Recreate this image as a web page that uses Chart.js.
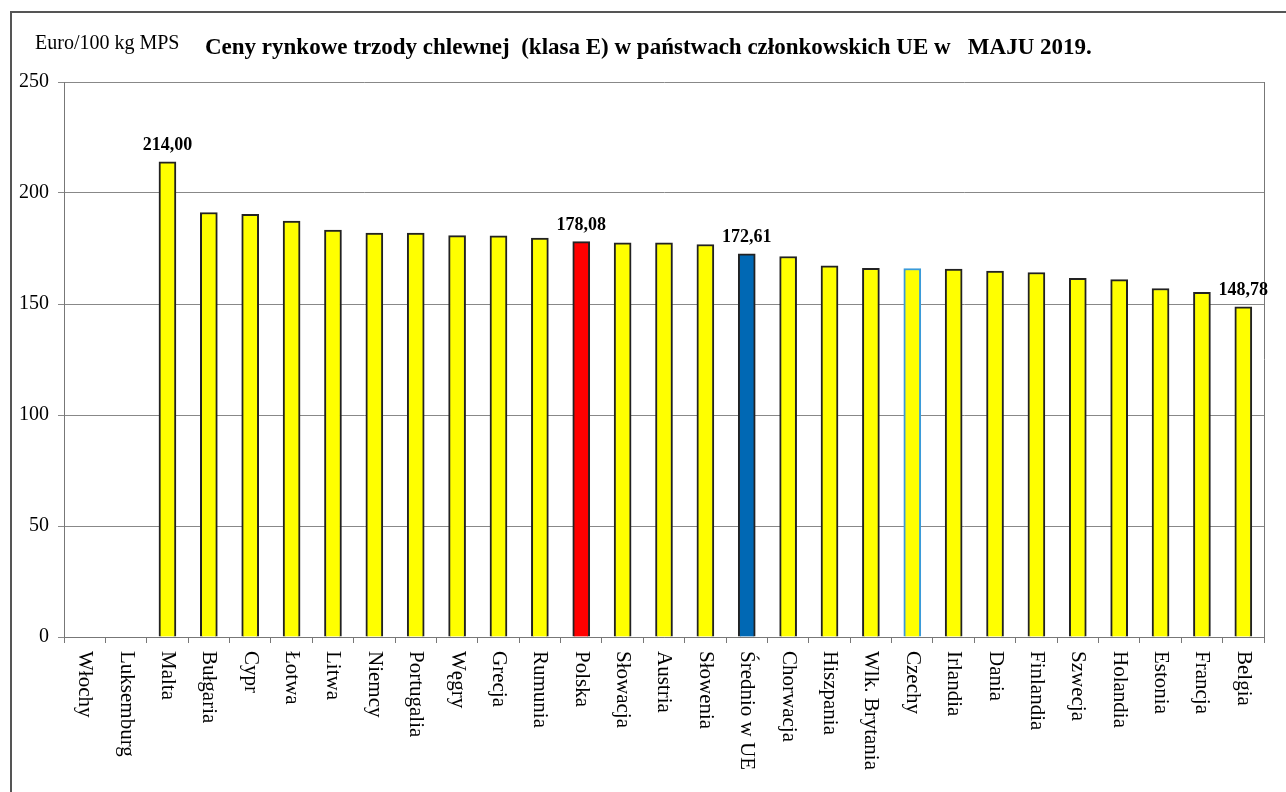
<!DOCTYPE html>
<html>
<head>
<meta charset="utf-8">
<script src="https://cdn.jsdelivr.net/npm/chart.js@4/dist/chart.umd.min.js"></script>
<style>
  body { margin: 0; background: #fff; }
  #frame { position: absolute; left: 10px; top: 11px; width: 1400px; height: 900px;
           border-left: 2px solid #555; border-top: 2px solid #555; }
  #wrap { position: absolute; left: 0; top: 0; width: 1286px; height: 792px; }
</style>
</head>
<body>
<div id="frame"></div>
<div id="wrap"><canvas id="chart" width="1286" height="792"></canvas></div>
<script>
// categories and prices (Euro/100 kg MPS), May 2019
const countries = ['Włochy', 'Luksemburg', 'Malta', 'Bułgaria', 'Cypr', 'Łotwa', 'Litwa', 'Niemcy',
    'Portugalia', 'Węgry', 'Grecja', 'Rumunia', 'Polska', 'Słowacja', 'Austria', 'Słowenia',
    'Średnio w UE', 'Chorwacja', 'Hiszpania', 'Wlk. Brytania', 'Czechy', 'Irlandia', 'Dania',
    'Finlandia', 'Szwecja', 'Holandia', 'Estonia', 'Francja', 'Belgia'];
const prices = [null, null, 214.00, 191.2, 190.4, 187.4, 183.3, 182.0,
    181.9, 180.8, 180.7, 179.7, 178.08, 177.6, 177.5, 176.8,
    172.61, 171.4, 167.2, 166.1, 166.0, 165.7, 164.8,
    164.2, 161.6, 161.0, 157.0, 155.3, 148.78];
const labelledBars = ['Malta', 'Polska', 'Średnio w UE', 'Belgia'];
const yTicks = [0, 50, 100, 150, 200, 250];

const SERIF = '"Liberation Serif", "Times New Roman", serif';

const fillColors = countries.map(c => c === 'Polska' ? '#ff0000' : (c === 'Średnio w UE' ? '#0068b4' : '#ffff00'));
const edgeColors = countries.map(c => c === 'Czechy' ? '#3a9ad9' : '#222');

const extras = {
    id: 'extras',
    afterDraw(chart) {
        const ctx = chart.ctx;
        const x = chart.scales.x;
        const y = chart.scales.y;
        const area = chart.chartArea;
        ctx.save();

        // right border of plot
        ctx.strokeStyle = '#777';
        ctx.lineWidth = 1;
        ctx.beginPath();
        ctx.moveTo(area.right + 0.5, area.top);
        ctx.lineTo(area.right + 0.5, area.bottom);
        ctx.stroke();

        // titles
        ctx.fillStyle = '#000';
        ctx.textBaseline = 'middle';
        ctx.textAlign = 'left';
        ctx.font = '20px ' + SERIF;
        ctx.fillText('Euro/100 kg MPS', 35, 44);
        ctx.font = 'bold 23px ' + SERIF;
        ctx.fillText('Ceny rynkowe trzody chlewnej  (klasa E) w państwach członkowskich UE w   MAJU 2019.', 205, 48);

        // category labels, rotated clockwise
        ctx.font = '21px ' + SERIF;
        countries.forEach((c, i) => {
            ctx.save();
            ctx.translate(x.getPixelForValue(i), area.bottom + 14);
            ctx.rotate(Math.PI / 2);
            ctx.textAlign = 'left';
            ctx.textBaseline = 'middle';
            ctx.fillText(c, 0, 0);
            ctx.restore();
        });

        // value labels
        ctx.font = 'bold 18px ' + SERIF;
        ctx.textAlign = 'center';
        ctx.textBaseline = 'alphabetic';
        countries.forEach((c, i) => {
            if (!labelledBars.includes(c)) return;
            const txt = prices[i].toFixed(2).replace('.', ',');
            ctx.fillText(txt, x.getPixelForValue(i), y.getPixelForValue(prices[i]) - 12);
        });
        ctx.restore();
    }
};

new Chart(document.getElementById('chart'), {
    type: 'bar',
    data: {
        labels: countries,
        datasets: [{
            data: prices,
            backgroundColor: fillColors,
            borderColor: edgeColors,
            borderWidth: 2,
            barThickness: 17
        }]
    },
    options: {
        responsive: false,
        animation: false,
        layout: { padding: { top: 82, right: 22, left: 0, bottom: 0 } },
        plugins: { legend: { display: false }, tooltip: { enabled: false } },
        scales: {
            x: {
                offset: true,
                grid: { display: true, offset: true, drawOnChartArea: false, drawTicks: true, tickLength: 6, color: '#777' },
                border: { color: '#777' },
                ticks: { display: false },
                afterFit: s => { s.height = 155; }
            },
            y: {
                min: 0,
                max: 250,
                afterBuildTicks: s => { s.ticks = yTicks.map(v => ({ value: v })); },
                grid: { color: '#888', tickLength: 6, drawTicks: true },
                border: { color: '#777' },
                ticks: { color: '#000', padding: 9, font: { family: SERIF, size: 20 } },
                afterFit: s => { s.width = 64; }
            }
        }
    },
    plugins: [extras]
});
</script>
</body>
</html>
